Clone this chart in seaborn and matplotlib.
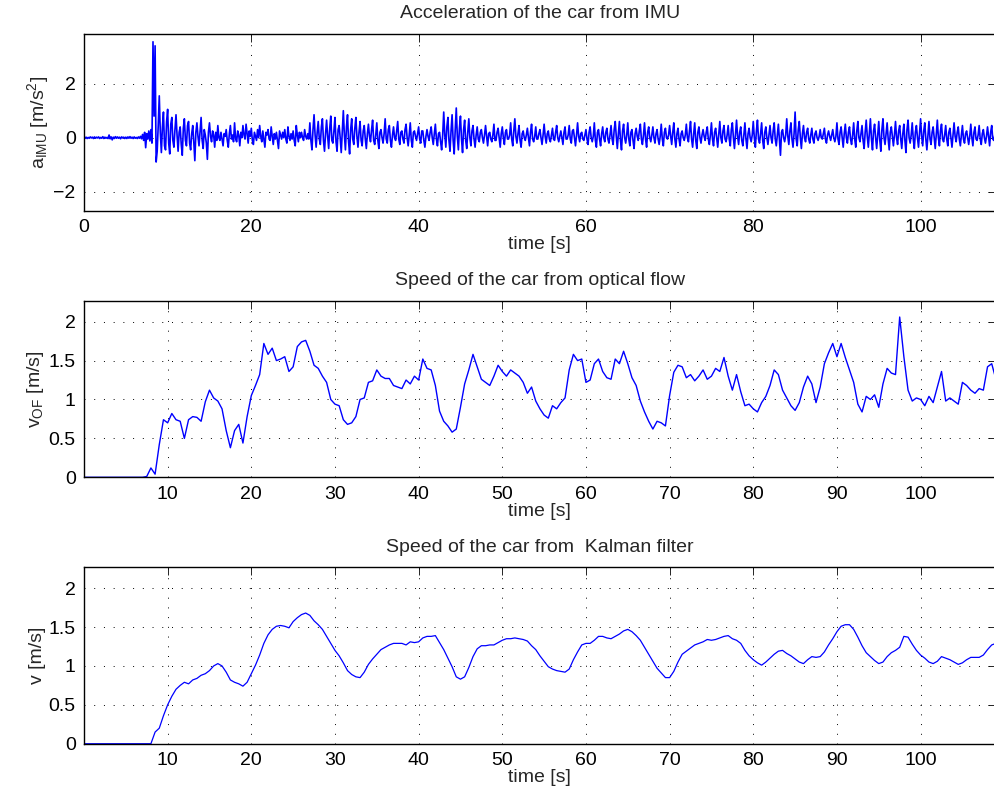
import numpy as np
import pandas as pd
import matplotlib
matplotlib.use("Agg")
import matplotlib.pyplot as plt
import seaborn as sns

# IMU acceleration, every 0.125 s from 0 to 109 s, one row per second
imu_acc = [
    0.03, -0.02, 0.02, -0.03, 0.01, -0.02, 0.03, -0.01,
    0.02, -0.03, 0.03, -0.02, 0.02, -0.01, 0.03, -0.03,
    0.01, -0.02, 0.04, -0.03, 0.02, -0.02, 0.01, -0.03,
    0.10, -0.04, 0.03, -0.08, 0.02, -0.03, 0.04, -0.02,
    0.03, -0.02, 0.02, -0.04, 0.03, -0.01, 0.02, -0.03,
    0.02, -0.03, 0.03, -0.02, 0.04, -0.02, 0.02, -0.03,
    0.03, -0.02, 0.01, -0.03, 0.03, -0.02, 0.05, -0.04,
    0.12, -0.10, 0.20, -0.37, 0.15, -0.05, 0.25, -0.12,
    0.30, -0.20, 3.55, 0.80, 3.40, -0.90, -0.50, 0.45,
    1.55, 0.20, -0.55, 0.40, 0.95, -0.30, -0.45, 0.60,
    1.05, -0.20, -0.60, 0.50, 0.75, -0.10, -0.35, 0.30,
    0.85, 0.10, -0.50, 0.20, 0.40, -0.25, -0.65, 0.35,
    0.70, -0.10, -0.30, 0.45, 0.60, -0.20, -0.45, 0.15,
    0.45, -0.15, -0.85, 0.20, 0.55, 0.05, -0.30, 0.25,
    0.75, -0.10, -0.40, 0.30, 0.10, -0.20, -0.80, 0.20,
    0.55, 0.05, -0.15, 0.25, 0.10, -0.35, 0.20, -0.10,
    0.45, 0.00, -0.10, 0.20, -0.05, -0.30, 0.15, 0.05,
    0.30, -0.10, -0.35, 0.15, 0.45, -0.05, 0.10, -0.15,
    0.55, -0.05, -0.15, 0.25, 0.10, -0.30, 0.20, 0.00,
    0.45, 0.10, -0.05, 0.50, 0.15, -0.20, 0.25, 0.05,
    0.35, -0.10, -0.25, 0.20, 0.05, -0.10, 0.30, 0.00,
    0.45, 0.05, -0.15, 0.25, -0.05, -0.35, 0.20, 0.10,
    0.30, -0.05, -0.10, 0.40, 0.05, -0.25, 0.15, -0.05,
    0.20, -0.10, -0.40, 0.25, 0.10, -0.05, 0.20, 0.00,
    0.30, -0.05, -0.20, 0.40, 0.05, -0.10, 0.15, -0.05,
    0.25, -0.10, -0.30, 0.45, 0.10, -0.15, 0.20, 0.00,
    0.20, 0.00, -0.10, 0.30, 0.05, -0.05, 0.15, -0.05,
    0.55, -0.10, -0.45, 0.30, 0.85, 0.10, -0.35, 0.20,
    0.60, -0.05, -0.25, 0.40, 0.70, -0.10, -0.50, 0.15,
    0.65, 0.05, -0.40, 0.35, 0.80, -0.10, -0.20, 0.25,
    0.75, -0.15, -0.50, 0.30, 0.45, 0.00, -0.55, 0.20,
    1.00, 0.10, -0.45, 0.40, 0.85, -0.15, -0.60, 0.30,
    0.70, -0.05, -0.25, 0.35, 0.75, 0.05, -0.35, 0.20,
    0.60, -0.10, -0.30, 0.25, 0.45, -0.05, -0.40, 0.15,
    0.50, 0.05, -0.15, 0.30, 0.65, -0.10, -0.25, 0.10,
    0.55, -0.10, -0.40, 0.20, 0.30, 0.00, -0.20, 0.15,
    0.70, -0.05, -0.20, 0.30, 0.45, -0.10, -0.35, 0.10,
    0.40, 0.00, -0.10, 0.25, 0.60, -0.05, -0.25, 0.20,
    0.25, -0.05, -0.20, 0.30, 0.50, 0.00, -0.30, 0.10,
    0.55, -0.10, -0.35, 0.20, 0.25, 0.05, -0.10, 0.15,
    0.40, -0.05, -0.20, 0.25, 0.25, -0.10, -0.35, 0.05,
    0.30, 0.05, -0.10, 0.20, 0.40, 0.00, -0.25, 0.15,
    0.50, -0.05, -0.30, 0.15, 0.20, -0.15, -0.45, 0.10,
    0.95, 0.10, -0.35, 0.40, 0.75, -0.10, -0.50, 0.25,
    0.85, -0.10, -0.60, 0.30, 1.10, 0.05, -0.45, 0.35,
    0.80, -0.05, -0.55, 0.30, 0.65, -0.10, -0.40, 0.20,
    0.70, 0.00, -0.30, 0.25, 0.45, -0.05, -0.35, 0.10,
    0.40, -0.05, -0.15, 0.20, 0.30, 0.00, -0.20, 0.10,
    0.45, 0.05, -0.30, 0.15, 0.20, -0.05, -0.15, 0.10,
    0.50, -0.10, -0.10, 0.20, 0.35, 0.00, -0.35, 0.15,
    0.40, 0.00, -0.25, 0.20, 0.30, -0.05, -0.05, 0.10,
    0.55, -0.05, -0.30, 0.25, 0.70, 0.05, -0.20, 0.15,
    0.45, -0.10, -0.35, 0.15, 0.25, 0.00, -0.10, 0.10,
    0.35, 0.00, -0.30, 0.20, 0.50, -0.05, -0.15, 0.05,
    0.40, -0.05, -0.05, 0.15, 0.30, 0.00, -0.25, 0.10,
    0.50, 0.05, -0.20, 0.15, 0.25, -0.05, -0.15, 0.10,
    0.35, -0.05, -0.10, 0.20, 0.45, 0.00, -0.15, 0.05,
    0.25, 0.00, -0.25, 0.20, 0.40, -0.05, -0.05, 0.10,
    0.45, -0.05, -0.20, 0.25, 0.30, 0.00, -0.30, 0.10,
    0.55, 0.05, -0.15, 0.15, 0.20, -0.05, -0.10, 0.10,
    0.30, -0.05, -0.25, 0.20, 0.40, 0.00, -0.15, 0.05,
    0.55, -0.10, -0.35, 0.20, 0.30, -0.05, -0.30, 0.15,
    0.40, 0.00, -0.15, 0.20, 0.35, -0.05, -0.20, 0.10,
    0.45, -0.05, -0.25, 0.30, 0.60, 0.05, -0.40, 0.15,
    0.60, -0.10, -0.45, 0.25, 0.50, 0.00, -0.20, 0.10,
    0.55, -0.05, -0.30, 0.20, 0.30, -0.10, -0.40, 0.15,
    0.35, 0.05, -0.10, 0.25, 0.50, -0.05, -0.25, 0.10,
    0.55, -0.05, -0.35, 0.20, 0.40, 0.00, -0.15, 0.10,
    0.40, 0.00, -0.20, 0.15, 0.30, -0.05, -0.25, 0.05,
    0.50, -0.05, -0.30, 0.20, 0.35, 0.00, -0.05, 0.10,
    0.45, 0.05, -0.25, 0.20, 0.55, -0.05, -0.35, 0.15,
    0.35, -0.05, -0.30, 0.15, 0.25, 0.00, -0.10, 0.10,
    0.50, 0.00, -0.15, 0.25, 0.60, -0.05, -0.35, 0.15,
    0.55, -0.10, -0.40, 0.20, 0.40, 0.00, -0.20, 0.10,
    0.30, 0.05, -0.10, 0.20, 0.40, -0.05, -0.25, 0.10,
    0.55, -0.05, -0.30, 0.20, 0.35, 0.00, -0.35, 0.15,
    0.60, 0.00, -0.20, 0.25, 0.45, -0.05, -0.15, 0.10,
    0.45, -0.05, -0.30, 0.30, 0.55, 0.00, -0.40, 0.15,
    0.65, 0.05, -0.25, 0.20, 0.40, -0.10, -0.30, 0.10,
    0.55, -0.05, -0.40, 0.15, 0.35, 0.00, -0.15, 0.10,
    0.60, 0.00, -0.35, 0.25, 0.65, -0.05, -0.20, 0.15,
    0.55, -0.10, -0.40, 0.20, 0.40, 0.00, -0.25, 0.10,
    0.45, 0.00, -0.20, 0.25, 0.55, -0.05, -0.30, 0.10,
    0.50, -0.05, -0.65, 0.20, 0.30, 0.00, -0.15, 0.10,
    0.70, 0.05, -0.25, 0.25, 0.55, -0.05, -0.35, 0.15,
    0.95, -0.05, -0.30, 0.30, 0.60, 0.00, -0.40, 0.15,
    0.45, 0.00, -0.15, 0.20, 0.35, -0.05, -0.20, 0.10,
    0.35, -0.05, -0.20, 0.15, 0.25, 0.00, -0.10, 0.05,
    0.30, 0.00, -0.05, 0.15, 0.35, -0.05, -0.20, 0.10,
    0.25, 0.05, -0.10, 0.10, 0.30, 0.00, -0.15, 0.05,
    0.55, -0.05, -0.25, 0.20, 0.40, 0.00, -0.35, 0.15,
    0.50, 0.00, -0.20, 0.20, 0.40, -0.05, -0.25, 0.10,
    0.55, -0.05, -0.35, 0.25, 0.60, 0.00, -0.15, 0.15,
    0.45, -0.10, -0.40, 0.20, 0.65, 0.05, -0.35, 0.15,
    0.70, -0.05, -0.45, 0.25, 0.50, 0.00, -0.40, 0.10,
    0.60, -0.10, -0.50, 0.30, 0.70, 0.00, -0.25, 0.15,
    0.55, -0.05, -0.45, 0.20, 0.40, 0.05, -0.30, 0.10,
    0.60, 0.00, -0.25, 0.25, 0.45, -0.05, -0.40, 0.15,
    0.50, -0.10, -0.55, 0.30, 0.65, 0.00, -0.20, 0.10,
    0.55, -0.05, -0.40, 0.20, 0.45, 0.00, -0.35, 0.15,
    0.70, 0.05, -0.30, 0.25, 0.55, -0.05, -0.45, 0.10,
    0.60, -0.05, -0.25, 0.20, 0.40, 0.00, -0.40, 0.15,
    0.65, 0.00, -0.30, 0.25, 0.50, -0.05, -0.15, 0.10,
    0.45, -0.05, -0.30, 0.20, 0.35, 0.00, -0.35, 0.10,
    0.55, 0.05, -0.15, 0.20, 0.40, -0.05, -0.30, 0.10,
    0.45, -0.05, -0.20, 0.15, 0.25, 0.00, -0.25, 0.05,
    0.50, 0.00, -0.30, 0.20, 0.40, -0.05, -0.10, 0.10,
    0.45, -0.05, -0.25, 0.15, 0.30, 0.00, -0.20, 0.05,
    0.40, 0.05, -0.30, 0.20, 0.45, -0.05, -0.10, 0.10,
    0.30,
]

# speed from optical flow, every 0.5 s from 0 to 109 s
of_speed = [
    0, 0, 0, 0, 0, 0, 0, 0, 0, 0, 0, 0, 0, 0, 0,
    0.01, 0.12, 0.04, 0.42, 0.74,
    0.70, 0.82, 0.74, 0.72, 0.50, 0.74, 0.78, 0.77, 0.72, 0.97,
    1.12, 1.02, 0.98, 0.88, 0.60, 0.38, 0.60, 0.68, 0.44, 0.78,
    1.05, 1.18, 1.32, 1.72, 1.58, 1.66, 1.50, 1.52, 1.55, 1.36,
    1.42, 1.68, 1.74, 1.76, 1.62, 1.44, 1.40, 1.30, 1.22, 1.00,
    0.94, 0.92, 0.74, 0.68, 0.70, 0.78, 1.00, 1.02, 1.22, 1.24,
    1.38, 1.30, 1.27, 1.27, 1.18, 1.16, 1.14, 1.25, 1.20, 1.30,
    1.25, 1.52, 1.40, 1.38, 1.18, 0.85, 0.72, 0.66, 0.58, 0.62,
    0.90, 1.20, 1.38, 1.58, 1.42, 1.26, 1.22, 1.18, 1.30, 1.44,
    1.36, 1.30, 1.38, 1.34, 1.30, 1.22, 1.08, 1.16, 0.98, 0.88,
    0.80, 0.76, 0.92, 0.88, 0.96, 1.02, 1.38, 1.58, 1.50, 1.52,
    1.22, 1.25, 1.46, 1.52, 1.36, 1.28, 1.26, 1.52, 1.46, 1.62,
    1.46, 1.28, 1.18, 0.98, 0.84, 0.72, 0.62, 0.72, 0.70, 0.66,
    1.05, 1.35, 1.44, 1.42, 1.28, 1.32, 1.24, 1.30, 1.38, 1.26,
    1.30, 1.40, 1.36, 1.54, 1.30, 1.12, 1.32, 1.10, 0.92, 0.94,
    0.88, 0.84, 0.96, 1.04, 1.18, 1.38, 1.32, 1.12, 1.02, 0.92,
    0.86, 0.96, 1.16, 1.30, 1.20, 0.96, 1.16, 1.46, 1.60, 1.72,
    1.55, 1.72, 1.54, 1.38, 1.22, 0.94, 0.84, 1.04, 1.00, 1.06,
    0.90, 1.20, 1.40, 1.34, 1.32, 2.06, 1.55, 1.12, 0.98, 1.02,
    1.00, 0.92, 1.04, 0.96, 1.16, 1.36, 0.98, 1.02, 0.98, 0.94,
    1.22, 1.18, 1.12, 1.08, 1.14, 1.12, 1.42, 1.46, 1.26,
]

# speed from Kalman filter, every 0.5 s from 0 to 109 s
kf_speed = [
    0, 0, 0, 0, 0, 0, 0, 0, 0, 0, 0, 0, 0, 0, 0, 0, 0,
    0.15, 0.20, 0.36,
    0.50, 0.61, 0.70, 0.75, 0.79, 0.77, 0.82, 0.84, 0.88, 0.90,
    0.94, 1.00, 1.03, 1.00, 0.92, 0.82, 0.79, 0.77, 0.74, 0.79,
    0.90, 1.01, 1.14, 1.29, 1.40, 1.47, 1.51, 1.52, 1.51, 1.49,
    1.57, 1.62, 1.66, 1.68, 1.65, 1.58, 1.53, 1.47, 1.38, 1.29,
    1.20, 1.13, 1.04, 0.94, 0.89, 0.86, 0.85, 0.92, 1.02, 1.09,
    1.15, 1.21, 1.24, 1.27, 1.29, 1.29, 1.29, 1.27, 1.31, 1.30,
    1.31, 1.36, 1.38, 1.38, 1.39, 1.30, 1.21, 1.10, 0.99, 0.86,
    0.83, 0.86, 0.98, 1.12, 1.22, 1.26, 1.26, 1.27, 1.27, 1.30,
    1.33, 1.35, 1.35, 1.36, 1.35, 1.34, 1.32, 1.26, 1.21, 1.13,
    1.06, 0.99, 0.96, 0.94, 0.93, 0.92, 0.96, 1.08, 1.18, 1.27,
    1.29, 1.29, 1.33, 1.38, 1.38, 1.36, 1.35, 1.38, 1.41, 1.45,
    1.47, 1.44, 1.39, 1.33, 1.24, 1.15, 1.06, 0.97, 0.91, 0.85,
    0.85, 0.93, 1.05, 1.15, 1.19, 1.23, 1.27, 1.29, 1.31, 1.34,
    1.33, 1.34, 1.36, 1.38, 1.39, 1.35, 1.33, 1.29, 1.20, 1.13,
    1.08, 1.04, 1.01, 1.05, 1.10, 1.15, 1.19, 1.20, 1.16, 1.13,
    1.09, 1.05, 1.03, 1.08, 1.12, 1.11, 1.12, 1.18, 1.27, 1.35,
    1.44, 1.51, 1.53, 1.53, 1.47, 1.37, 1.26, 1.17, 1.12, 1.07,
    1.03, 1.05, 1.12, 1.17, 1.20, 1.24, 1.38, 1.37, 1.28, 1.20,
    1.14, 1.10, 1.05, 1.03, 1.06, 1.12, 1.10, 1.08, 1.05, 1.02,
    1.04, 1.08, 1.11, 1.11, 1.11, 1.14, 1.21, 1.27, 1.29,
]

imu_time = np.arange(len(imu_acc)) * 0.125
of_time = np.arange(len(of_speed)) * 0.5
kf_time = np.arange(len(kf_speed)) * 0.5

imu_df = pd.DataFrame({"time": imu_time, "acc": imu_acc})
of_df = pd.DataFrame({"time": of_time, "v": of_speed})
kf_df = pd.DataFrame({"time": kf_time, "v": kf_speed})

sns.set_theme(style="white")
plt.rcParams["font.family"] = ["Liberation Sans", "DejaVu Sans"]
plt.rcParams["mathtext.fontset"] = "custom"
plt.rcParams["mathtext.rm"] = "Liberation Sans"
plt.rcParams["mathtext.it"] = "Liberation Sans:italic"

fs = 14

fig = plt.figure(figsize=(9.95, 7.98), dpi=100)
ax1 = fig.add_axes([0.0844, 0.736, 0.9165, 0.2218])
ax2 = fig.add_axes([0.0844, 0.4019, 0.9165, 0.2213])
ax3 = fig.add_axes([0.0844, 0.068, 0.9165, 0.2213])

sns.lineplot(data=imu_df, x="time", y="acc", ax=ax1, color="#0000ff", lw=1.2)
sns.lineplot(data=of_df, x="time", y="v", ax=ax2, color="#0000ff", lw=1.0)
sns.lineplot(data=kf_df, x="time", y="v", ax=ax3, color="#0000ff", lw=0.9)

ax1.set_ylim(-2.7, 3.85)
ax1.set_yticks([-2, 0, 2])
ax1.set_xticks([0, 20, 40, 60, 80, 100])
ax1.set_title("Acceleration of the car from IMU", fontsize=fs, pad=11)
ax1.set_ylabel(r"a$_{\mathrm{IMU}}$ [m/s$^{2}$]", fontsize=fs, labelpad=2)

ax2.set_ylim(0, 2.27)
ax2.set_yticks([0, 0.5, 1, 1.5, 2])
ax2.set_yticklabels(["0", "0.5", "1", "1.5", "2"])
ax2.set_xticks([10, 20, 30, 40, 50, 60, 70, 80, 90, 100])
ax2.set_title("Speed of the car from optical flow", fontsize=fs, pad=11)
ax2.set_ylabel(r"v$_{\mathrm{OF}}$ [m/s]", fontsize=fs, labelpad=2)

ax3.set_ylim(0, 2.27)
ax3.set_yticks([0, 0.5, 1, 1.5, 2])
ax3.set_yticklabels(["0", "0.5", "1", "1.5", "2"])
ax3.set_xticks([10, 20, 30, 40, 50, 60, 70, 80, 90, 100])
ax3.set_title("Speed of the car from  Kalman filter", fontsize=fs, pad=11)
ax3.set_ylabel("v [m/s]", fontsize=fs, labelpad=2)

for ax in [ax1, ax2, ax3]:
    ax.set_xlim(0, 109)
    ax.set_xlabel("time [s]", fontsize=fs, labelpad=0)
    ax.grid(True, linestyle=(0, (1, 9)), color="black", linewidth=0.7)
    ax.tick_params(direction="in", length=6, width=0.6, top=True, right=True,
                   labelsize=fs, colors="black", pad=6)
    for s in ax.spines.values():
        s.set_color("black")
        s.set_linewidth(1.0)

fig.savefig("out.png", dpi=100)
